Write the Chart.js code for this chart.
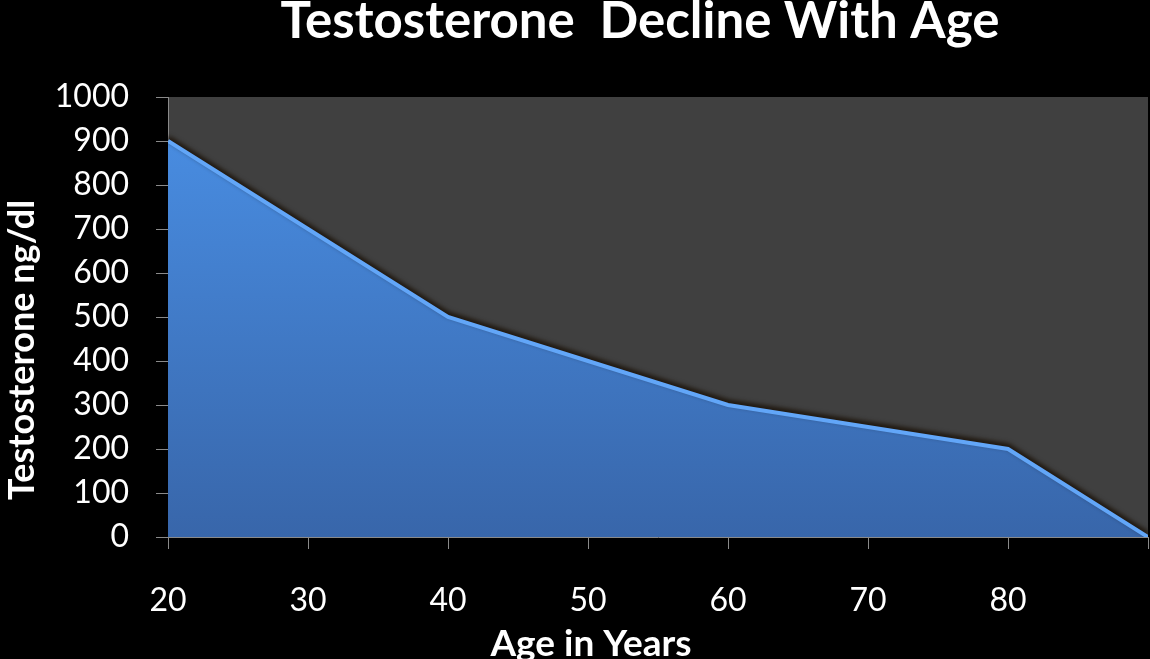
<!DOCTYPE html>
<html>
<head>
<meta charset="utf-8">
<script src="https://cdn.jsdelivr.net/npm/chart.js@4.4.1/dist/chart.umd.min.js"></script>
<style>
  html, body { margin: 0; padding: 0; background: #000; }
  #wrap { width: 1150px; height: 659px; }
</style>
</head>
<body>
<div id="wrap"><canvas id="testoChart"></canvas></div>
<script>
// -------- DATA ---------------
const ages = [20, 30, 40, 50, 60, 70, 80, 90];
const testosterone = [900, 700, 500, 400, 300, 250, 200, 0];
const titleText = "Testosterone  Decline With Age";
const xTitle = "Age in Years";
const yTitle = "Testosterone ng/dl";

const fontLato = "Lato, 'Open Sans', sans-serif";
const white = "#ffffff";
const axisGrey = "#8a8a8a";

// plot background + shadow above the area
const plotBg = {
    id: "plotBg",
    beforeDraw(chart) {
        const { ctx, chartArea: a } = chart;
        ctx.save();
        ctx.fillStyle = "#000";
        ctx.fillRect(0, 0, chart.width, chart.height);
        ctx.fillStyle = "#404040";
        ctx.fillRect(a.left, a.top, a.right - a.left, a.bottom - a.top);
        ctx.restore();
    },
    beforeDatasetsDraw(chart) {
        const ctx = chart.ctx;
        ctx.save();
        ctx.shadowColor = "rgba(25,15,5,0.85)";
        ctx.shadowBlur = 5;
        ctx.shadowOffsetY = -3;
    },
    afterDatasetsDraw(chart) {
        chart.ctx.restore();
    }
};

// chart title and axis titles drawn at their place
const titles = {
    id: "titles",
    afterDraw(chart) {
        const ctx = chart.ctx;
        ctx.save();
        ctx.fillStyle = white;
        ctx.textAlign = "center";
        ctx.textBaseline = "alphabetic";
        ctx.font = "bold 51px " + fontLato;
        ctx.fillText(titleText, 640, 38);
        ctx.font = "bold 37px " + fontLato;
        ctx.fillText(xTitle, 591, 656);
        // y title, rotated
        ctx.translate(22, 350);
        ctx.rotate(-Math.PI / 2);
        ctx.textBaseline = "middle";
        ctx.font = "bold 36px " + fontLato;
        ctx.fillText(yTitle, 0, 0);
        ctx.restore();
    }
};

const points = ages.map((a, i) => ({ x: a, y: testosterone[i] }));

new Chart(document.getElementById("testoChart"), {
    type: "line",
    data: {
        datasets: [{
            data: points,
            fill: "origin",
            borderColor: "#62a6f8",
            borderWidth: 4,
            pointRadius: 0,
            tension: 0,
            backgroundColor: (context) => {
                const a = context.chart.chartArea;
                if (!a) return "#4480d0";
                const g = context.chart.ctx.createLinearGradient(0, a.top, 0, a.bottom);
                g.addColorStop(0, "#4a90e6");
                g.addColorStop(1, "#3866aa");
                return g;
            }
        }]
    },
    options: {
        responsive: true,
        maintainAspectRatio: false,
        animation: false,
        layout: { padding: { top: 97, right: 2, left: 0, bottom: 0 } },
        plugins: {
            legend: { display: false },
            tooltip: { enabled: false }
        },
        scales: {
            x: {
                type: "linear",
                min: 20,
                max: 90,
                afterFit: (scale) => {
                    scale.height = 122;
                    scale.paddingLeft = 0;
                    scale.paddingRight = 0;
                },
                border: { color: axisGrey, width: 1 },
                grid: { drawOnChartArea: false, drawTicks: true, tickLength: 12, color: axisGrey },
                ticks: {
                    stepSize: 10,
                    color: white,
                    padding: 32,
                    maxRotation: 0,
                    font: { size: 32, family: fontLato },
                    callback: (v) => v >= 90 ? "" : String(v)
                }
            },
            y: {
                min: 0,
                max: 1000,
                afterFit: (scale) => {
                    scale.width = 168;
                    scale.paddingTop = 0;
                    scale.paddingBottom = 0;
                },
                border: { color: axisGrey, width: 1 },
                grid: { drawOnChartArea: false, drawTicks: true, tickLength: 12, color: axisGrey },
                ticks: {
                    stepSize: 100,
                    color: white,
                    padding: 27,
                    font: { size: 32, family: fontLato },
                    callback: (v) => String(v)
                }
            }
        }
    },
    plugins: [plotBg, titles]
});
</script>
</body>
</html>
